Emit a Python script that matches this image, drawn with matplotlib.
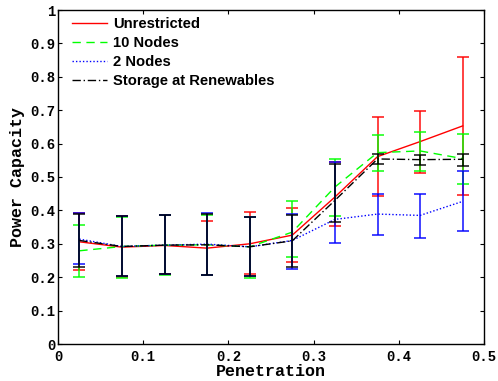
import matplotlib
matplotlib.use("Agg")
import matplotlib.pyplot as plt

penetration = [0.025, 0.075, 0.125, 0.175, 0.225, 0.275, 0.325, 0.375, 0.425, 0.475]

unres_mean = [0.306, 0.290, 0.295, 0.287, 0.300, 0.326, 0.440, 0.561, 0.606, 0.653]
unres_low  = [0.222, 0.200, 0.210, 0.206, 0.209, 0.246, 0.354, 0.443, 0.513, 0.446]
unres_high = [0.393, 0.383, 0.386, 0.369, 0.396, 0.406, 0.545, 0.679, 0.698, 0.860]

n10_mean = [0.279, 0.292, 0.296, 0.297, 0.291, 0.335, 0.470, 0.573, 0.578, 0.555]
n10_low  = [0.200, 0.198, 0.208, 0.206, 0.199, 0.260, 0.384, 0.519, 0.519, 0.479]
n10_high = [0.356, 0.380, 0.386, 0.387, 0.381, 0.428, 0.555, 0.626, 0.634, 0.628]

n2_mean = [0.314, 0.292, 0.296, 0.299, 0.291, 0.310, 0.373, 0.389, 0.385, 0.427]
n2_low  = [0.239, 0.203, 0.210, 0.206, 0.205, 0.225, 0.301, 0.326, 0.318, 0.337]
n2_high = [0.393, 0.383, 0.386, 0.393, 0.381, 0.389, 0.545, 0.449, 0.450, 0.518]

stor_mean = [0.310, 0.292, 0.296, 0.297, 0.291, 0.309, 0.430, 0.554, 0.552, 0.553]
stor_low  = [0.231, 0.205, 0.210, 0.206, 0.205, 0.231, 0.366, 0.538, 0.535, 0.533]
stor_high = [0.390, 0.382, 0.386, 0.388, 0.381, 0.385, 0.540, 0.568, 0.567, 0.570]

series = [
    ("Unrestricted", unres_mean, unres_low, unres_high, "#ff0000", "-"),
    ("10 Nodes", n10_mean, n10_low, n10_high, "#00ff00", (0, (6, 4))),
    ("2 Nodes", n2_mean, n2_low, n2_high, "#0000ff", (0, (1, 1.5))),
    ("Storage at Renewables", stor_mean, stor_low, stor_high, "#000000", (0, (6, 2, 1, 2))),
]

fig = plt.figure(figsize=(4.98, 3.81), dpi=100)
ax = fig.add_axes([58/498, 1-344/381, (484-58)/498, (344-10)/381])

handles = []
for name, m, lo, hi, col, ls in series:
    yerr = [[a - b for a, b in zip(m, lo)], [c - a for a, c in zip(m, hi)]]
    ax.errorbar(penetration, m, yerr=yerr, fmt='none', ecolor=col, elinewidth=1.3,
                capsize=4, capthick=1.3, alpha=0.8)
    h, = ax.plot(penetration, m, color=col, linestyle=ls, linewidth=1.0, label=name)
    handles.append(h)

ax.set_xlim(0, 0.5)
ax.set_ylim(0, 1)
ax.set_xticks([0, 0.1, 0.2, 0.3, 0.4, 0.5])
ax.set_xticklabels(["0", "0.1", "0.2", "0.3", "0.4", "0.5"])
ax.set_yticks([i/10 for i in range(11)])
ax.set_yticklabels(["0"] + ["0.%d" % i for i in range(1, 10)] + ["1"])
tickfont = dict(family="Liberation Mono", weight="bold", size=10)
for lab in ax.get_xticklabels() + ax.get_yticklabels():
    lab.set_fontproperties(matplotlib.font_manager.FontProperties(**tickfont))
ax.tick_params(direction="in", top=True, right=True, length=3, width=0.8, pad=2)
ax.tick_params(axis="x", pad=4)
for s in ax.spines.values():
    s.set_linewidth(1.0)
ax.set_xlabel("Penetration", family="Liberation Mono", weight="bold", size=12, labelpad=0)
ax.set_ylabel("Power Capacity", family="Liberation Mono", weight="bold", size=12, labelpad=4)

leg = ax.legend(handles=handles, loc="upper left", frameon=False,
                bbox_to_anchor=(0.0155, 1.0),
                prop=dict(family="Liberation Sans", weight="bold", size=10.6),
                handlelength=2.4, handletextpad=0.4, labelspacing=0.33,
                borderaxespad=0.1)

fig.savefig("out.png", dpi=100)
